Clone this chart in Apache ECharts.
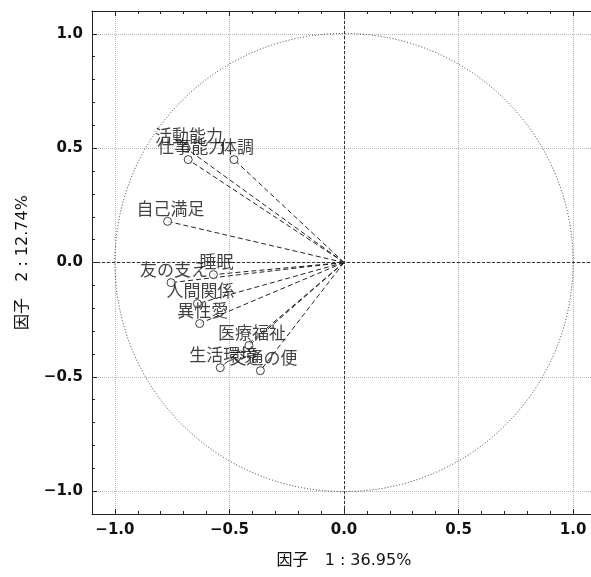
<!DOCTYPE html>
<html lang="ja">
<head>
<meta charset="utf-8" />
<title>因子負荷量</title>
<style>
  html, body { margin: 0; padding: 0; background: #fff; }
  #main { width: 591px; height: 577px; }
</style>
</head>
<body>
<div id="main"></div>
<script src="https://cdn.jsdelivr.net/npm/echarts@6/dist/echarts.min.js"></script>
<script>
// 変数名と因子負荷量
const varNames = ['活動能力', '仕事能力', '体調', '自己満足', '睡眠', '友の支え', '人間関係', '異性愛', '医療福祉', '生活環境', '交通の便'];
const factor1 = [-0.69, -0.68, -0.48, -0.77, -0.57, -0.755, -0.64, -0.63, -0.415, -0.54, -0.365];
const factor2 = [0.50, 0.45, 0.45, 0.18, -0.053, -0.088, -0.18, -0.267, -0.363, -0.46, -0.473];
const axisName1 = '因子　1 : 36.95%';
const axisName2 = '因子　2 : 12.74%';

const points = varNames.map(function (n, i) {
  return { name: n, value: [factor1[i], factor2[i]] };
});

const fmt = function (v) {
  return v.toFixed(1).replace('-', '\u2212');
};

const tickFont = { color: '#111', fontSize: 15, fontWeight: 'bold', fontFamily: 'DejaVu Sans' };
const nameFont = { color: '#111', fontSize: 16, fontFamily: '"DejaVu Sans", "Noto Sans CJK JP"' };

const chart = echarts.init(document.getElementById('main'));

const option = {
  animation: false,
  // 右端の枠は画像の外に出る
  grid: { left: 92, top: 11, width: 504, height: 503, outerBoundsMode: 'none', containLabel: false },
  xAxis: [
    {
      type: 'value', min: -1.1, max: 1.1, splitNumber: 4,
      name: axisName1, nameLocation: 'middle', nameGap: 39,
      nameTextStyle: nameFont,
      axisLine: { show: true, onZero: false, lineStyle: { color: '#222', width: 1 } },
      axisTick: { show: true, inside: true, length: 5, lineStyle: { color: '#222' } },
      minorTick: { show: true, splitNumber: 5, length: 3, lineStyle: { color: '#222' } },
      axisLabel: Object.assign({ formatter: fmt, margin: 9, showMinLabel: false, showMaxLabel: false }, tickFont),
      splitLine: { show: true, lineStyle: { color: '#b8b8b8', type: 'dotted', width: 1 } }
    },
    {
      type: 'value', position: 'top', min: -1.1, max: 1.1, splitNumber: 4,
      axisLine: { show: true, onZero: false, lineStyle: { color: '#222', width: 1 } },
      axisTick: { show: true, inside: true, length: 5, lineStyle: { color: '#222' } },
      minorTick: { show: true, splitNumber: 5, length: 3, lineStyle: { color: '#222' } },
      axisLabel: { show: false },
      splitLine: { show: false }
    }
  ],
  yAxis: {
    type: 'value', min: -1.1, max: 1.1, splitNumber: 4,
    name: axisName2, nameLocation: 'middle', nameGap: 61,
    nameTextStyle: nameFont,
    axisLine: { show: true, onZero: false, lineStyle: { color: '#222', width: 1 } },
    axisTick: { show: true, inside: true, length: 5, lineStyle: { color: '#222' } },
    minorTick: { show: true, splitNumber: 5, length: 3, lineStyle: { color: '#222' } },
    axisLabel: Object.assign({ formatter: fmt, margin: 9, showMinLabel: false, showMaxLabel: false }, tickFont),
    splitLine: { show: true, lineStyle: { color: '#b8b8b8', type: 'dotted', width: 1 } }
  },
  series: [
    {
      // 単位円
      type: 'custom',
      silent: true,
      z: 1,
      data: [[0, 0]],
      renderItem: function (params, api) {
        const o = api.coord([api.value(0), api.value(1)]);
        const r = api.coord([1, 0])[0] - o[0];
        return {
          type: 'circle',
          shape: { cx: o[0], cy: o[1], r: r },
          style: { fill: 'none', stroke: '#333', lineWidth: 1, lineDash: [1, 2] }
        };
      }
    },
    {
      // 原点からのベクトル
      type: 'custom',
      silent: true,
      z: 2,
      data: points,
      renderItem: function (params, api) {
        const o = api.coord([0, 0]);
        const p = api.coord([api.value(0), api.value(1)]);
        return {
          type: 'line',
          shape: { x1: o[0], y1: o[1], x2: p[0], y2: p[1] },
          style: { stroke: '#222', lineWidth: 1, lineDash: [5, 3] }
        };
      }
    },
    {
      type: 'scatter',
      z: 3,
      data: points,
      symbol: 'circle',
      symbolSize: 8,
      itemStyle: { color: '#fff', borderColor: '#111', borderWidth: 1 },
      label: {
        show: true,
        formatter: '{b}',
        position: 'top',
        distance: 0,
        offset: [3, 0],
        color: '#111',
        fontSize: 17,
        fontFamily: 'Noto Sans CJK JP'
      },
      markLine: {
        silent: true,
        symbol: 'none',
        label: { show: false },
        lineStyle: { color: '#333', type: [3, 2], width: 1 },
        data: [{ xAxis: 0 }, { yAxis: 0 }]
      }
    }
  ]
};

chart.setOption(option);

window.onresize = function () {
  chart.resize();
};
</script>
</body>
</html>
